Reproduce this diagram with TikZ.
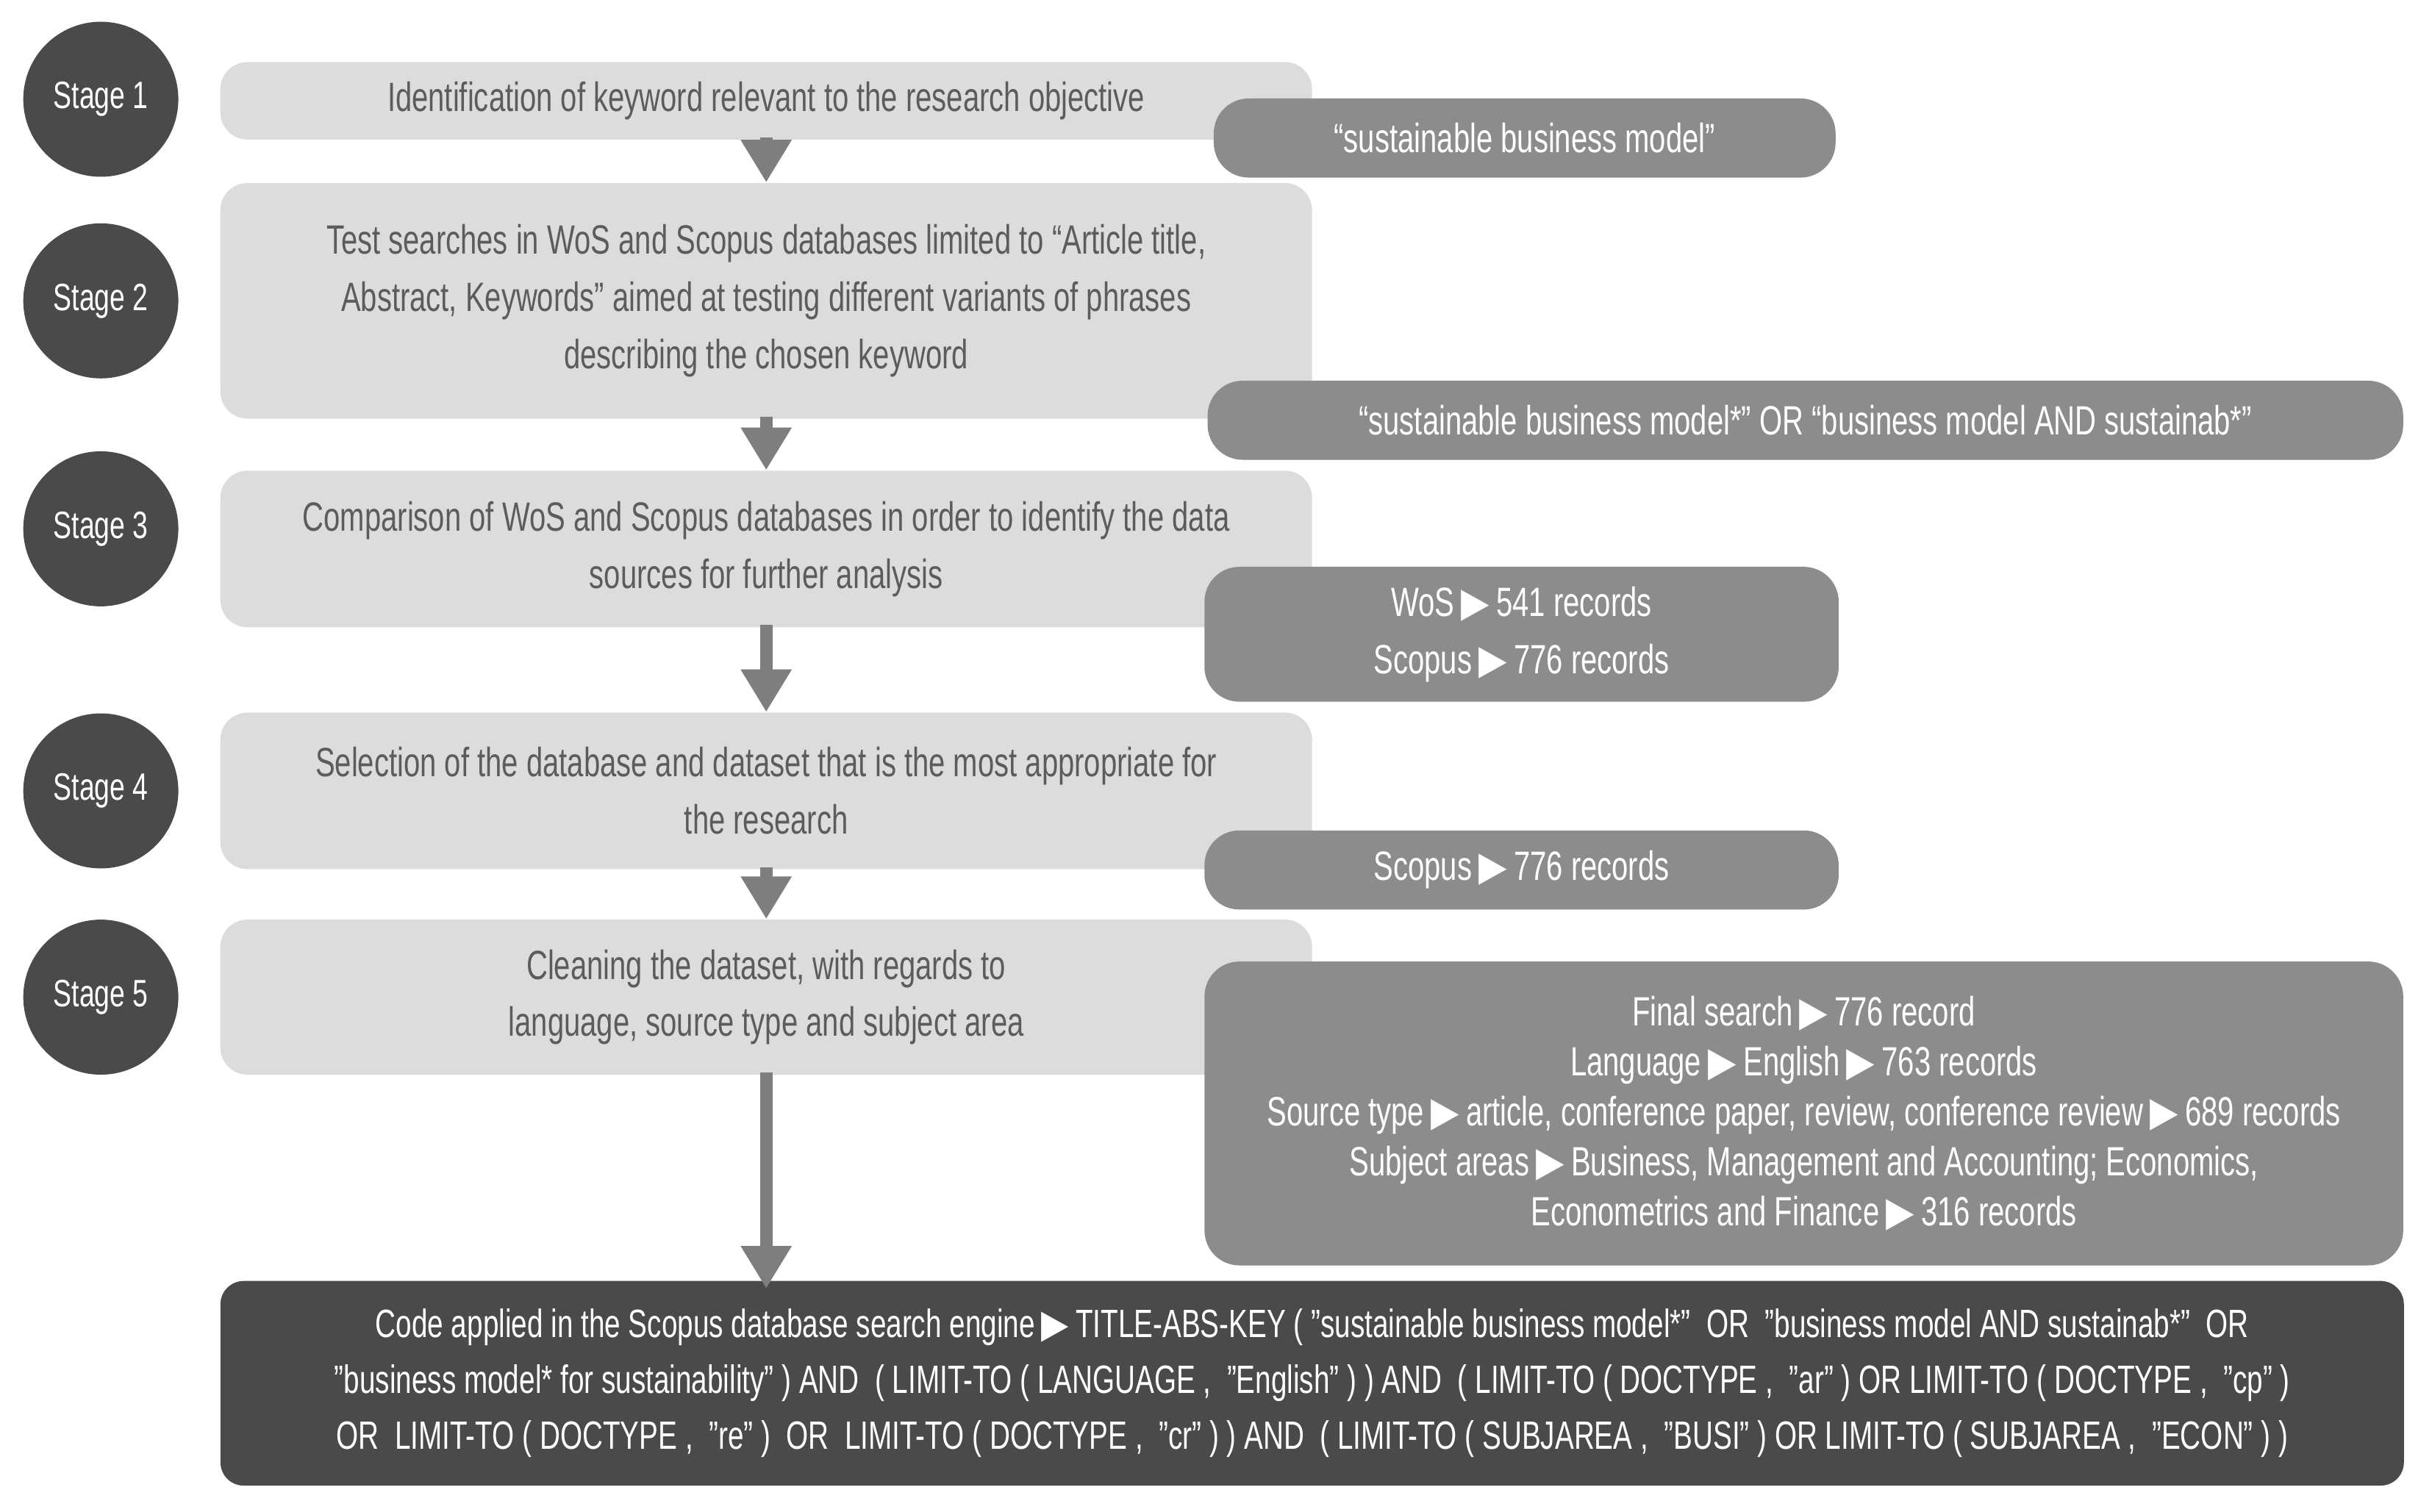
\documentclass[tikz,border=0pt]{standalone}
\usepackage{fontspec}
\setmainfont{Liberation Sans}[FakeStretch=0.72]
\newfontfamily\sym{DejaVu Sans}[FakeStretch=0.9]
\usetikzlibrary{arrows.meta}
\definecolor{dk}{HTML}{4A4A4A}
\definecolor{md}{HTML}{8C8C8C}
\definecolor{lt}{HTML}{DCDCDC}
\newcommand{\tri}{{\sym\,▶\,}}
\tikzset{
 stage/.style={circle,fill=dk,text=white,minimum size=2cm,inner sep=0,font=\fontsize{14}{14}\selectfont},
 lbox/.style={fill=lt,rounded corners=0.35cm,align=center,text=dk!90,font=\fontsize{15}{21}\selectfont,inner sep=0},
 mbox/.style={fill=md,rounded corners=0.45cm,align=center,text=white,font=\fontsize{15}{21}\selectfont,inner sep=0},
 arr/.style={draw=md!90!black,line width=0.16cm,-{Triangle[width=0.62cm,length=0.55cm]},shorten <=-1pt},
}
\begin{document}
\begin{tikzpicture}[x=0.02cm,y=-0.02cm]
\useasboundingbox (0,0) rectangle (1568,975);
% stages
\foreach \n/\y in {1/64,2/194,3/341,4/510,5/643}
  \node[stage] (s\n) at (65,\y) {Stage \n};
% light boxes
\node[lbox,minimum width=14.08cm,minimum height=1.0cm] (b1) at (494,65) {Identification of keyword relevant to the research objective};
\node[lbox,minimum width=14.08cm,minimum height=3.04cm] (b2) at (494,194) {Test searches in WoS and Scopus databases limited to “Article title,\\Abstract, Keywords” aimed at testing different variants of phrases\\describing the chosen keyword};
\node[lbox,minimum width=14.08cm,minimum height=2.02cm] (b3) at (494,354) {Comparison of WoS and Scopus databases in order to identify the data\\sources for further analysis};
\node[lbox,minimum width=14.08cm,minimum height=2.02cm] (b4) at (494,510) {Selection of the database and dataset that is the most appropriate for\\the research};
\node[lbox,minimum width=14.08cm,minimum height=2.0cm] (b5) at (494,643) {Cleaning the dataset, with regards to\\language, source type and subject area};
% bottom
\node[fill=dk,rounded corners=0.3cm,text=white,align=center,inner sep=0,minimum width=28.16cm,minimum height=2.64cm,font=\fontsize{14.5}{20.5}\selectfont] (code) at (846,892) {Code applied in the Scopus database search engine\tri TITLE-ABS-KEY ( "sustainable business model*"\ \ OR\ \ "business model AND sustainab*"\ \ OR\\"business model* for sustainability" ) AND\ \ ( LIMIT-TO ( LANGUAGE ,\ \ "English" ) ) AND\ \ ( LIMIT-TO ( DOCTYPE ,\ \ "ar" ) OR LIMIT-TO ( DOCTYPE ,\ \ "cp" )\\OR\ \ LIMIT-TO ( DOCTYPE ,\ \ "re" )\ \ OR\ \ LIMIT-TO ( DOCTYPE ,\ \ "cr" ) ) AND\ \ ( LIMIT-TO ( SUBJAREA ,\ \ "BUSI" ) OR LIMIT-TO ( SUBJAREA ,\ \ "ECON" ) )};
% arrows
\draw[arr] (b1.south) -- (b2.north);
\draw[arr] (b2.south) -- (b3.north);
\draw[arr] (b3.south) -- (b4.north);
\draw[arr] (b4.south) -- (b5.north);
\draw[arr] (b5.south) -- ([yshift=-3]code.north -| b5.south);
% medium boxes
\node[mbox,minimum width=8.02cm,minimum height=1.02cm] (m1) at (983,89) {“sustainable business model”};
\node[mbox,minimum width=15.42cm,minimum height=1.02cm] (m2) at (1164,271) {“sustainable business model*” OR “business model AND sustainab*”};
\node[mbox,minimum width=8.18cm,minimum height=1.74cm] (m3) at (981,409) {WoS\tri 541 records\\Scopus\tri 776 records};
\node[mbox,minimum width=8.18cm,minimum height=1.02cm] (m4) at (981,561) {Scopus\tri 776 records};
\node[mbox,minimum width=15.46cm,minimum height=3.92cm,font=\fontsize{15}{18.4}\selectfont] (m5) at (1163,718) {Final search\tri 776 record\\Language\tri English\tri 763 records\\Source type\tri article, conference paper, review, conference review\tri 689 records\\Subject areas\tri Business, Management and Accounting; Economics,\\Econometrics and Finance\tri 316 records};
\end{tikzpicture}
\end{document}
